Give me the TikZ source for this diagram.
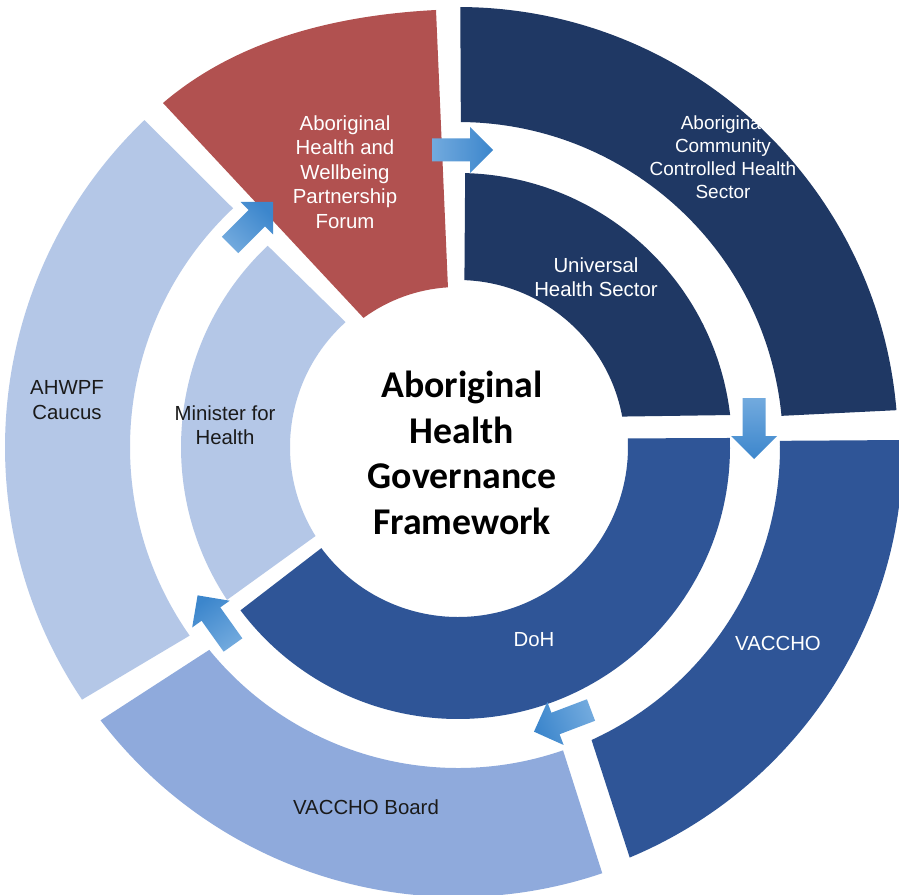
\documentclass[tikz,border=0pt]{standalone}
\usepackage{fontspec}
\setmainfont{Liberation Sans}
\newfontfamily\carlito{Carlito}
\usepackage{tikz}
\usetikzlibrary{positioning}
\usetikzlibrary{calc}

\definecolor{ForumRed}{RGB}{177,81,80}
\definecolor{SectorNavy}{RGB}{31,56,100}
\definecolor{SectorBlue}{RGB}{47,85,151}
\definecolor{BoardBlue}{RGB}{143,170,220}
\definecolor{PaleBlue}{RGB}{180,199,231}
\definecolor{ArrowLight}{RGB}{114,170,222}
\definecolor{ArrowDark}{RGB}{60,134,204}
\definecolor{LabelInk}{RGB}{26,26,26}

\tikzset{
	whitelabel/.style={text=white, align=center, inner sep=0pt,
		font=\fontsize{11.6}{13.9}\selectfont},
	darklabel/.style={whitelabel, text=LabelInk},
	titlelabel/.style={align=center, inner sep=0pt,
		font=\carlito\fontsize{21.5}{26}\selectfont\bfseries},
	% block arrow along +x, tail at the origin, #1 = shading angle
	pics/flowarrow/.style={
		code={
			\shade[top color=ArrowDark, bottom color=ArrowLight, shading angle=#1]
				(0,-11.5) -- (38,-11.5) -- (38,-23) -- (61,0)
				-- (38,23) -- (38,11.5) -- (0,11.5) -- cycle;
		}
	}
}

\begin{document}
\begin{tikzpicture}[x=0.02cm, y=0.02cm]

	% ------------------------------------------------
	% Page size
	\path[use as bounding box, fill=white] (0,0) rectangle (899,894);

	% ------------------------------------------------
	% Relevant coordinates
	\coordinate (Centre) at (458,447);

	\path (Centre) +(4,-6)     coordinate (TitleSpot);
	\path (Centre) +(-113,275) coordinate (ForumSpot);
	\path (Centre) +(265,290)  coordinate (CommunitySpot);
	\path (Centre) +(138,170)  coordinate (UniversalSpot);
	\path (Centre) +(76,-193)  coordinate (DoHSpot);
	\path (Centre) +(320,-196) coordinate (VacchoSpot);
	\path (Centre) +(-92,-360) coordinate (BoardSpot);
	\path (Centre) +(-391,47)  coordinate (CaucusSpot);
	\path (Centre) +(-233,22)  coordinate (MinisterSpot);

	% arrow tails
	\coordinate (ArrowA) at (230,649);
	\coordinate (ArrowB) at (432,744);
	\coordinate (ArrowC) at (754,496);
	\coordinate (ArrowD) at (591,184);
	\coordinate (ArrowE) at (233,249);

	% ----------------
	% Ring segments
	\begin{scope}[shift={(Centre)}]
		% outer ring
		\fill[ForumRed] (-295,344) .. controls (-220.4,407.9) and (-120.1,432) .. (-22,437)
			-- (93.6:160) arc[start angle=93.6, end angle=126.2, radius=160] -- cycle;
		\fill[SectorNavy] (89.7:440) arc[start angle=89.7, end angle=4.8, radius=440]
			-- (5.5:325) arc[start angle=5.5, end angle=89.5, radius=325] -- cycle;
		\fill[SectorBlue] (0.9:445) arc[start angle=0.9, end angle=-67.3, radius=445]
			-- (-65.5:322) arc[start angle=-65.5, end angle=1.1, radius=322] -- cycle;
		\fill[BoardBlue] (217.4:450) arc[start angle=217.4, end angle=288.7, radius=450]
			-- (289.1:321) arc[start angle=289.1, end angle=219.2, radius=321] -- cycle;
		\fill[PaleBlue] (133.8:453) arc[start angle=133.8, end angle=213.9, radius=453]
			-- (215.1:328) arc[start angle=215.1, end angle=133.3, radius=328] -- cycle;

		% inner ring
		\fill[SectorNavy] (88.5:274) arc[start angle=88.5, end angle=6.7, radius=274]
			-- (10.5:167) arc[start angle=10.5, end angle=87.8, radius=167] -- cycle;
		\fill[SectorBlue] (1.9:272) arc[start angle=1.9, end angle=-143.1, radius=272]
			-- (-143.5:170) arc[start angle=-143.5, end angle=2.9, radius=170] -- cycle;
		\fill[PaleBlue] (133.4:277) arc[start angle=133.4, end angle=213.5, radius=277]
			-- (212:168) arc[start angle=212, end angle=132, radius=168] -- cycle;
	\end{scope}

	% ----------------
	% Labels
	\node[titlelabel] (Title) at (TitleSpot) {Aboriginal\\Health\\Governance\\Framework};

	\node[whitelabel] (Forum) at (ForumSpot) {Aboriginal\\Health and\\Wellbeing\\Partnership\\Forum};
	\node[whitelabel, font=\fontsize{10.8}{13}\selectfont] (Community) at (CommunitySpot) {Aboriginal\\Community\\Controlled Health\\Sector};
	\node[whitelabel] (Universal) at (UniversalSpot) {Universal\\Health Sector};
	\node[whitelabel] (DoH) at (DoHSpot) {DoH};
	\node[whitelabel] (Vaccho) at (VacchoSpot) {VACCHO};
	\node[darklabel] (Board) at (BoardSpot) {VACCHO Board};
	\node[darklabel] (Caucus) at (CaucusSpot) {AHWPF\\Caucus};
	\node[darklabel] (Minister) at (MinisterSpot) {Minister for\\Health};

	% ----------------
	% Flow arrows
	\pic[rotate=45]    at (ArrowA) {flowarrow=-45};
	\pic[rotate=0]     at (ArrowB) {flowarrow=-90};
	\pic[rotate=-90]   at (ArrowC) {flowarrow=-180};
	\pic[rotate=200.8] at (ArrowD) {flowarrow=110.8};
	\pic[rotate=125.5] at (ArrowE) {flowarrow=35.5};

\end{tikzpicture}
\end{document}
